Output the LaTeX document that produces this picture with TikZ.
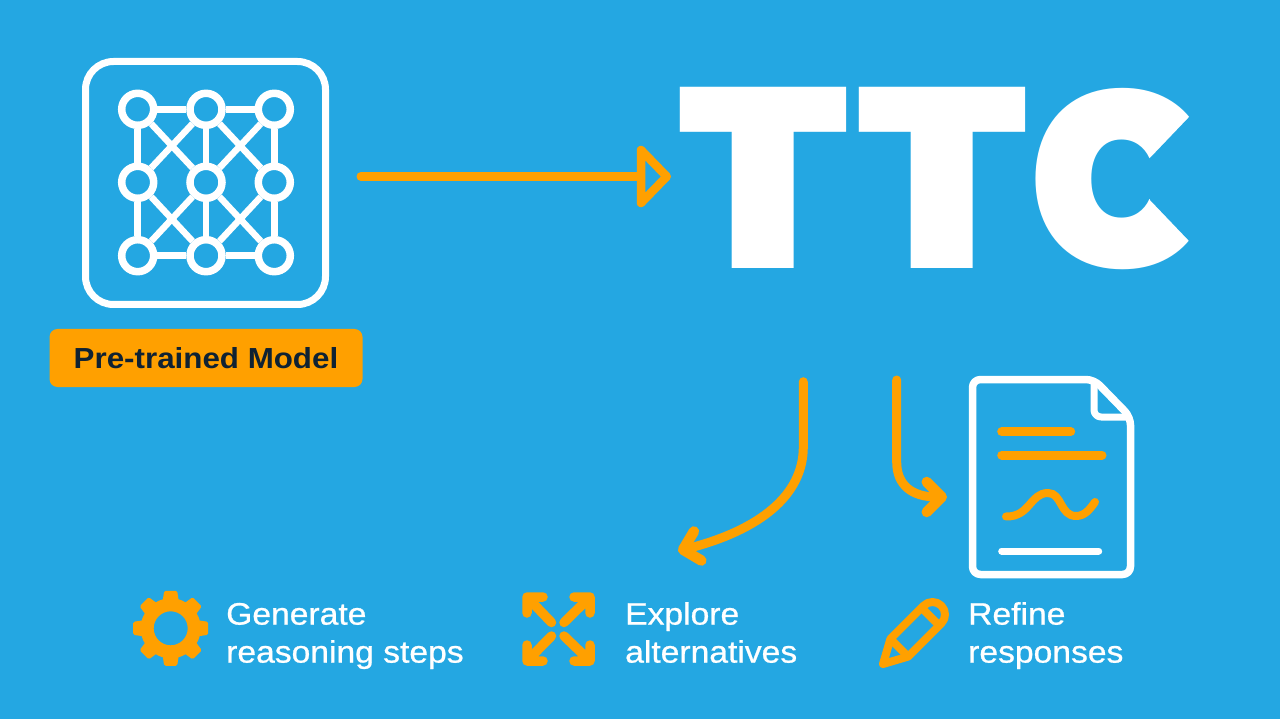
\documentclass[tikz,border=0pt]{standalone}
\usepackage{fontspec}
\usetikzlibrary{arrows.meta,shapes.geometric,calc}
\setmainfont{Liberation Sans}
\newfontfamily\capfont[FakeStretch=1.085,FakeBold=0.8]{Liberation Sans}
\newfontfamily\pillfont[FakeStretch=1.08]{Liberation Sans Bold}
\newfontfamily\bigT[FakeStretch=1.09]{Poppins Black}
\newfontfamily\bigC[FakeStretch=0.985]{Poppins Black}
\definecolor{skybg}{HTML}{24A7E2}
\definecolor{amber}{HTML}{FFA000}
\definecolor{inkdark}{HTML}{0F2233}
\tikzset{
  x=1pt,y=-1pt,
  neuron/.style={circle,draw=white,line width=7.5pt,minimum size=32pt,inner sep=0pt},
  synapse/.style={draw=white,line width=6.5pt},
  amberline/.style={draw=amber,line width=9pt,line cap=round},
  flow/.style={amberline,-{Straight Barb[round,length=15pt,width=30pt,line width=10.5pt]}},
  caption/.style={text=white,font=\capfont\fontsize{31}{38}\selectfont,align=left,anchor=west,inner sep=0pt},
  iconline/.style={draw=amber,line width=9.5pt,line cap=round,line join=round},
}
\begin{document}
\begin{tikzpicture}
\useasboundingbox (0,0) rectangle (1280,719);
\fill[skybg] (0,0) rectangle (1280,719);

% model box
\draw[white,line width=7pt,rounded corners=28pt] (85.5,61.5) rectangle (325.5,304.5);
\foreach \n/\px/\py in {a/137.7/109.3,b/206/109.3,c/274.3/109.3,d/137.7/182.3,e/206/182.3,f/274.3/182.3,g/137.7/255.7,h/206/255.7,i/274.3/255.7}
  \node[neuron] (\n) at (\px,\py) {};
\foreach \s/\t in {a/b,b/c,g/h,h/i,a/d,d/g,b/e,e/h,c/f,f/i,a/e,b/d,b/f,c/e,d/h,e/g,e/i,f/h}
  \draw[synapse] (\s) -- (\t);

% pill
\node[fill=amber,rounded corners=8pt,minimum width=313pt,minimum height=58pt,inner sep=0pt,
      text=inkdark,font=\pillfont\fontsize{29}{34}\selectfont] (pill) at (206,358) {Pre-trained Model};

% TTC
\node[text=white,inner sep=0pt,anchor=base west] (ttc) at (677,269)
  {\fontsize{256}{256}\selectfont\bigT T\kern7pt T\kern1pt\fontsize{252}{252}\selectfont\bigC C};
\fill[skybg] (1150,158) -- (1193,113) -- (1225,113) -- (1225,245) -- (1193,245) -- (1150,200) -- cycle;

% main arrow
\coordinate (m1) at (361,176.5);
\coordinate (m2) at (671,176.5);
\draw[amberline,-{Triangle[open,round,length=36pt,width=72pt,line width=8.5pt]}] (m1) -- (m2);

% curved arrows
\coordinate (s1) at (803.3,381.7);
\coordinate (t1) at (678,551);
\draw[flow] (s1) -- (803.3,447) .. controls (803.3,495) and (760,530) .. (t1);
\coordinate (s2) at (896.7,380);
\coordinate (t2) at (947,497);
\draw[flow] (s2) -- (896.7,462) .. controls (896.7,485) and (912,497) .. (t2);

% document
\draw[white,line width=7.5pt,line join=round,rounded corners=8pt]
  (972.5,379.5) -- (1094,379.5) -- (1130.5,417) -- (1130.5,574.5) -- (972.5,574.5) -- cycle;
\draw[white,line width=7pt,line join=round,rounded corners=7pt]
  (1094,381) -- (1094,417) -- (1130,417);
\draw[amberline] (1001.7,431.7) -- (1070.7,431.7);
\draw[amberline] (1001.7,455) -- (1102,455);
\draw[amberline,line width=8pt] (1006,516.5) .. controls (1030,517) and (1030,493) .. (1048,493)
   .. controls (1062,493) and (1060,516) .. (1076,516) .. controls (1085,516) and (1090,509) .. (1095,502);
\draw[white,line width=7pt,line cap=round] (1001.7,551) -- (1098.7,551);

% gear
\begin{scope}[shift={(170.7,628.3)}]
  \fill[amber]
    \foreach \a in {0,45,...,315}{
      [rotate=\a] (-6.5,-37.5) [rounded corners=1.5pt] -- (6.5,-37.5) -- (8.5,-24) -- (-8.5,-24) -- cycle
    }
    ;
  \fill[amber,even odd rule] (0,0) circle[radius=30] (0,0) circle[radius=17];
\end{scope}

% expand arrows
\coordinate (ca) at (527,597);
\coordinate (cb) at (590,597);
\coordinate (cc) at (527,661);
\coordinate (cd) at (590,661);
\draw[iconline] (ca) -- (551.5,622.5) (ca) -- (543,597) (ca) -- (527,613);
\draw[iconline] (cb) -- (564,622.5) (cb) -- (574,597) (cb) -- (590,613);
\draw[iconline] (cc) -- (551.5,636) (cc) -- (543,661) (cc) -- (527,645);
\draw[iconline] (cd) -- (564,636) (cd) -- (574,661) (cd) -- (590,645);

% pencil
\begin{scope}[shift={(883,664)},rotate=45]
  \draw[amber,line width=8pt,line join=round]
    (0,0) -- (23,-12.5) -- (70,-12.5) arc[start angle=-90,end angle=90,radius=12.5] -- (23,12.5) -- cycle;
  \draw[amber,line width=8pt] (23,-12.5) -- (23,12.5) (67,-12.5) -- (67,12.5);
\end{scope}

% captions
\node[caption] (cap1) at (226,636) {\strut Generate\\\strut reasoning steps};
\node[caption] (cap2) at (625,636) {\strut Explore\\\strut alternatives};
\node[caption] (cap3) at (968,636) {\strut Refine\\\strut responses};
\end{tikzpicture}
\end{document}
